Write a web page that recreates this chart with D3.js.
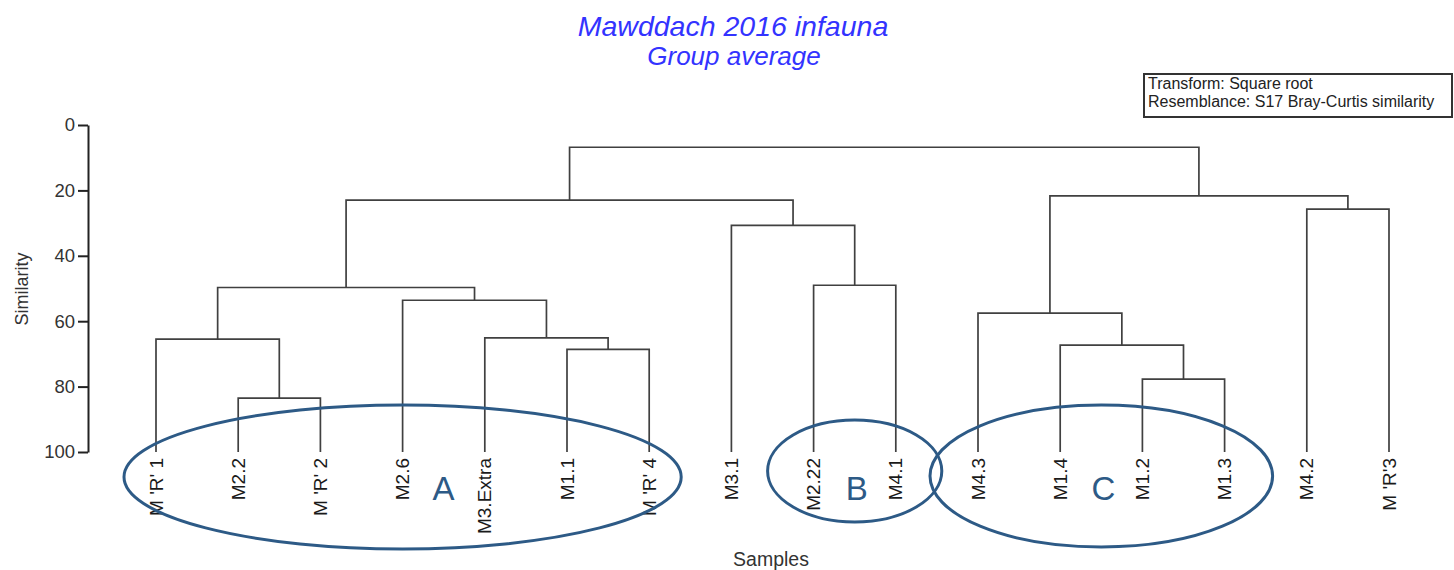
<!DOCTYPE html>
<html>
<head>
<meta charset="utf-8">
<script src="https://cdn.jsdelivr.net/npm/d3@7"></script>
<style>
  body { margin: 0; background: #fff; }
  svg { font-family: "Liberation Sans", Arial, sans-serif; }
</style>
</head>
<body>
<svg id="chart" width="1454" height="570"></svg>
<script>
// Samples, in dendrogram order
const leaves = [
  "M 'R' 1", "M2.2", "M 'R' 2", "M2.6", "M3.Extra", "M1.1", "M 'R' 4",
  "M3.1", "M2.22", "M4.1", "M4.3", "M1.4", "M1.2", "M1.3", "M4.2", "M 'R'3"
];

// Merge table (hclust style): negative = leaf number, positive = earlier merge
const mergeLeft  = [-2, -13, -6, -12, -1, -5, -11, -4, 5, -9, -8, -15, 9, 7, 13];
const mergeRight = [-3, -14, -7, 2, 1, 3, 4, 6, 8, -10, 10, -16, 11, 12, 14];
const mergeSim   = [83.5, 77.7, 68.6, 67.3, 65.5, 65.1, 57.5, 53.6, 49.7, 49.0, 30.7, 25.7, 23.0, 21.7, 6.8];

const yTicks = [0, 20, 40, 60, 80, 100];

// Circled groups
const groupNames = ["A", "B", "C"];
const groupFrom  = ["M 'R' 1", "M2.22", "M4.3"];
const groupTo    = ["M 'R' 4", "M4.1", "M1.3"];

const legendLines = ["Transform: Square root", "Resemblance: S17 Bray-Curtis similarity"];

const svg = d3.select("#chart");

const x = d3.scalePoint().domain(leaves).range([156, 1389]);
const y = d3.scaleLinear().domain([0, 100]).range([125, 452]);

// Build node positions from merges
function node(ref) {
  if (ref < 0) return { x: x(leaves[-ref - 1]), sim: 100 };
  return merged[ref - 1];
}
const merged = [];
mergeSim.forEach((s, i) => {
  const a = node(mergeLeft[i]);
  const b = node(mergeRight[i]);
  merged.push({ x: (a.x + b.x) / 2, sim: s, a, b });
});

// Elbow lines
svg.append("g")
  .attr("fill", "none")
  .attr("stroke", "#404040")
  .attr("stroke-width", 1.7)
  .selectAll("path")
  .data(merged)
  .join("path")
  .attr("d", d =>
    `M${d.a.x},${y(d.a.sim)}V${y(d.sim)}H${d.b.x}V${y(d.b.sim)}`);

// Y axis
const yAxis = svg.append("g")
  .attr("transform", "translate(88,0)")
  .call(d3.axisLeft(y).tickValues(yTicks).tickSize(10).tickSizeOuter(0).tickPadding(3));
yAxis.select(".domain").attr("stroke", "#222").attr("stroke-width", 2);
yAxis.selectAll(".tick line").attr("stroke", "#222").attr("stroke-width", 2);
yAxis.selectAll(".tick text")
  .attr("font-size", 18.5)
  .attr("font-family", "Liberation Sans, Arial, sans-serif")
  .attr("fill", "#333");

svg.append("text")
  .attr("transform", "translate(28,289) rotate(-90)")
  .attr("text-anchor", "middle")
  .attr("font-size", 18)
  .attr("fill", "#333")
  .text("Similarity");

// Leaf labels
svg.append("g")
  .selectAll("text")
  .data(leaves)
  .join("text")
  .attr("transform", d => `translate(${x(d)},458) rotate(-90)`)
  .attr("text-anchor", "end")
  .attr("dy", "0.35em")
  .attr("font-size", 19)
  .attr("fill", "#1a1a1a")
  .text(d => d);

svg.append("text")
  .attr("x", 771)
  .attr("y", 566)
  .attr("text-anchor", "middle")
  .attr("font-size", 19.5)
  .attr("fill", "#333")
  .text("Samples");

// Group ellipses
const ELLIPSE_COLOR = "#2d5a86";
const ELLIPSE_PAD = [32, 46, 48];
const ELLIPSE_RY = [72, 51, 71];
const ELLIPSE_DY = [25, 19, 24];
const groups = svg.append("g");
groupNames.forEach((g, i) => {
  const x0 = x(groupFrom[i]);
  const x1 = x(groupTo[i]);
  const cx = (x0 + x1) / 2;
  groups.append("ellipse")
    .attr("cx", cx)
    .attr("cy", y(100) + ELLIPSE_DY[i])
    .attr("rx", (x1 - x0) / 2 + ELLIPSE_PAD[i])
    .attr("ry", ELLIPSE_RY[i])
    .attr("fill", "none")
    .attr("stroke", ELLIPSE_COLOR)
    .attr("stroke-width", 3);
  groups.append("text")
    .attr("x", i === 0 ? cx + 41 : cx + 2)
    .attr("y", y(100) + 48)
    .attr("text-anchor", "middle")
    .attr("font-size", 33)
    .attr("fill", ELLIPSE_COLOR)
    .text(g);
});

// Title
svg.append("text")
  .attr("x", 733)
  .attr("y", 36)
  .attr("text-anchor", "middle")
  .attr("font-size", 28.5)
  .attr("font-style", "italic")
  .attr("fill", "#3333ff")
  .text("Mawddach 2016 infauna");
svg.append("text")
  .attr("x", 734)
  .attr("y", 65)
  .attr("text-anchor", "middle")
  .attr("font-size", 26)
  .attr("font-style", "italic")
  .attr("fill", "#3333ff")
  .text("Group average");

// Info box
const box = svg.append("g").attr("transform", "translate(1144,74)");
box.append("rect")
  .attr("width", 308)
  .attr("height", 43)
  .attr("fill", "#fff")
  .attr("stroke", "#333")
  .attr("stroke-width", 2);
box.selectAll("text")
  .data(legendLines)
  .join("text")
  .attr("x", 4)
  .attr("y", (d, i) => 14.5 + i * 18.5)
  .attr("font-size", 16)
  .attr("fill", "#222")
  .text(d => d);
</script>
</body>
</html>
